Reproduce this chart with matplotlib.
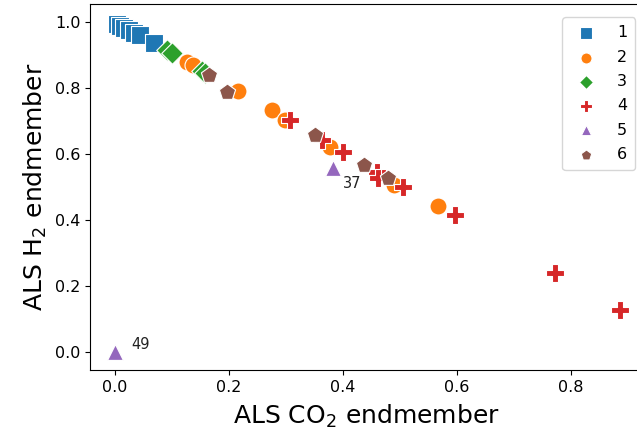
import matplotlib
matplotlib.use("Agg")
import matplotlib.pyplot as plt

# ---- data ----
groups = ["1", "2", "3", "4", "5", "6"]

g1_x = [0.003, 0.008, 0.015, 0.024, 0.033, 0.043, 0.068]
g1_y = [0.995, 0.988, 0.982, 0.975, 0.968, 0.962, 0.936]

g2_x = [0.100, 0.126, 0.137, 0.216, 0.275, 0.298, 0.377, 0.489, 0.567]
g2_y = [0.906, 0.879, 0.870, 0.791, 0.733, 0.703, 0.621, 0.506, 0.442]

g3_x = [0.091, 0.100, 0.152, 0.158]
g3_y = [0.915, 0.905, 0.852, 0.845]

g4_x = [0.307, 0.363, 0.400, 0.460, 0.462, 0.505, 0.596, 0.772, 0.886]
g4_y = [0.703, 0.642, 0.606, 0.545, 0.527, 0.500, 0.415, 0.239, 0.127]

g5_x = [0.382, 0.000]
g5_y = [0.558, 0.000]
g5_labels = ["37", "49"]

g6_x = [0.165, 0.196, 0.351, 0.437, 0.479]
g6_y = [0.839, 0.788, 0.658, 0.567, 0.527]

series = [
    (g1_x, g1_y, "s", "#1f77b4", 165),
    (g2_x, g2_y, "o", "#ff7f0e", 150),
    (g3_x, g3_y, "D", "#2ca02c", 120),
    (g4_x, g4_y, "P", "#d62728", 150),
    (g5_x, g5_y, "^", "#9467bd", 130),
    (g6_x, g6_y, "p", "#8c564b", 150),
]

fig = plt.figure(figsize=(6.37, 4.34), dpi=100)
ax = fig.add_axes([90 / 637, 64 / 434, (643 - 90) / 637, (370 - 4) / 434])

for (xs, ys, m, c, s), name in zip(series, groups):
    ax.scatter(xs, ys, marker=m, s=s, color=c, edgecolors="white",
               linewidths=0.8, label=name, zorder=3)

label_offsets = [(0.018, -0.07), (0.028, 0.0)]
for x, y, t, (dx, dy) in zip(g5_x, g5_y, g5_labels, label_offsets):
    ax.text(x + dx, y + dy, t, fontsize=10.5, ha="left", va="bottom", color="#222222")

ax.set_xlim((90 - 115) / 570, (643 - 115) / 570)
ax.set_ylim((352 - 370) / 330, (352 - 4) / 330)
ax.set_xticks([0.0, 0.2, 0.4, 0.6, 0.8])
ax.set_yticks([0.0, 0.2, 0.4, 0.6, 0.8, 1.0])
ax.tick_params(labelsize=11.5)

ax.set_xlabel("ALS CO$_2$ endmember", fontsize=18, labelpad=6)
ax.set_ylabel("ALS H$_2$ endmember", fontsize=18)

ax.legend(loc="upper right", fontsize=11.5, markerscale=0.65,
          handletextpad=0.9, borderpad=0.5, labelspacing=0.58,
          bbox_to_anchor=(1.0, 0.985))

fig.savefig("out.png", dpi=100)
